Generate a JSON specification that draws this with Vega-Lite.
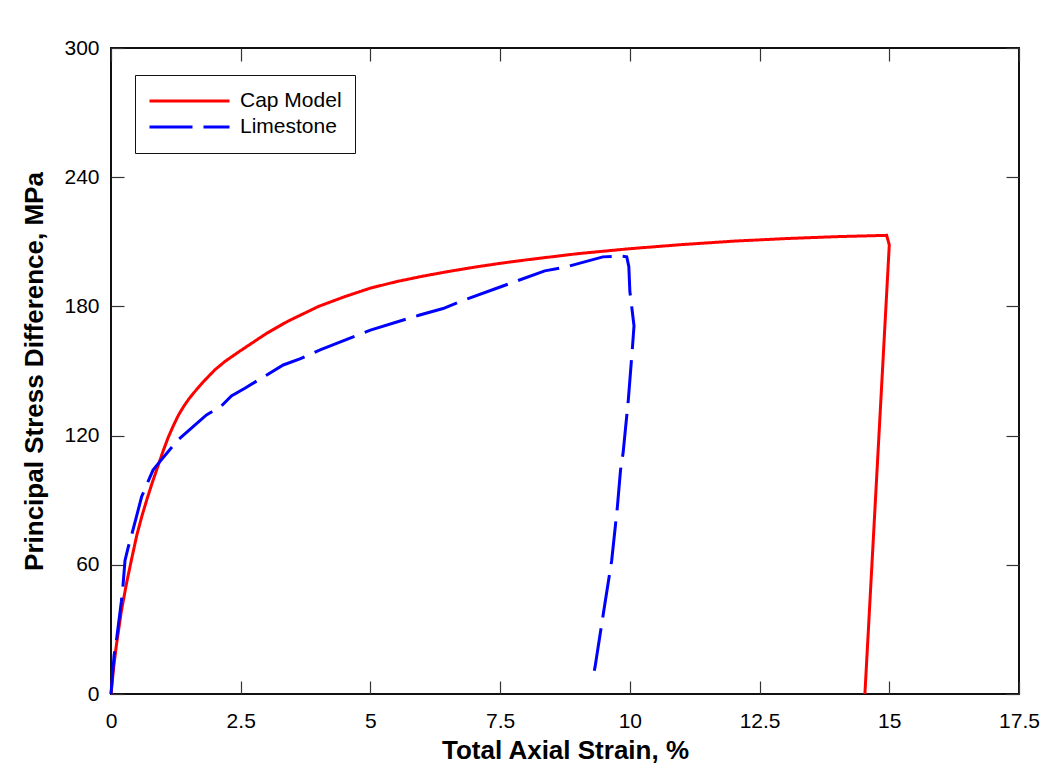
{
  "$schema": "https://vega.github.io/schema/vega-lite/v6.json",
  "width": 908,
  "height": 646,
  "autosize": "none",
  "padding": {"left": 111, "top": 48, "right": 32, "bottom": 78},
  "background": "white",
  "config": {
    "view": {"stroke": "#111111", "strokeWidth": 2},
    "font": "Liberation Sans",
    "axis": {
      "labelFont": "Liberation Sans",
      "labelFontSize": 21,
      "labelColor": "black",
      "titleFont": "Liberation Sans",
      "titleFontSize": 26,
      "titleFontWeight": "bold",
      "titleColor": "black",
      "tickSize": -13,
      "tickColor": "#333333",
      "tickWidth": 1.2,
      "domain": false,
      "grid": false
    }
  },
  "data": {
    "values": [
      {"s": "Cap Model", "i": 0, "x": 0, "y": 0},
      {"s": "Cap Model", "i": 1, "x": 0.05, "y": 12},
      {"s": "Cap Model", "i": 2, "x": 0.1, "y": 22},
      {"s": "Cap Model", "i": 3, "x": 0.2, "y": 38.5},
      {"s": "Cap Model", "i": 4, "x": 0.3, "y": 51.5},
      {"s": "Cap Model", "i": 5, "x": 0.4, "y": 63},
      {"s": "Cap Model", "i": 6, "x": 0.5, "y": 74},
      {"s": "Cap Model", "i": 7, "x": 0.6, "y": 83},
      {"s": "Cap Model", "i": 8, "x": 0.7, "y": 91},
      {"s": "Cap Model", "i": 9, "x": 0.8, "y": 98.5},
      {"s": "Cap Model", "i": 10, "x": 0.9, "y": 105.5},
      {"s": "Cap Model", "i": 11, "x": 1.0, "y": 112.5},
      {"s": "Cap Model", "i": 12, "x": 1.1, "y": 119},
      {"s": "Cap Model", "i": 13, "x": 1.2, "y": 124.5},
      {"s": "Cap Model", "i": 14, "x": 1.3, "y": 129.5},
      {"s": "Cap Model", "i": 15, "x": 1.4, "y": 133.5},
      {"s": "Cap Model", "i": 16, "x": 1.5, "y": 137},
      {"s": "Cap Model", "i": 17, "x": 1.6, "y": 140},
      {"s": "Cap Model", "i": 18, "x": 1.8, "y": 145.5},
      {"s": "Cap Model", "i": 19, "x": 2.0, "y": 150.5},
      {"s": "Cap Model", "i": 20, "x": 2.2, "y": 154.5},
      {"s": "Cap Model", "i": 21, "x": 2.5, "y": 159.5},
      {"s": "Cap Model", "i": 22, "x": 2.75, "y": 163.5},
      {"s": "Cap Model", "i": 23, "x": 3.0, "y": 167.5},
      {"s": "Cap Model", "i": 24, "x": 3.4, "y": 173},
      {"s": "Cap Model", "i": 25, "x": 4.0, "y": 180},
      {"s": "Cap Model", "i": 26, "x": 4.5, "y": 184.5},
      {"s": "Cap Model", "i": 27, "x": 5, "y": 188.5},
      {"s": "Cap Model", "i": 28, "x": 5.5, "y": 191.5},
      {"s": "Cap Model", "i": 29, "x": 6, "y": 194},
      {"s": "Cap Model", "i": 30, "x": 6.5, "y": 196.2},
      {"s": "Cap Model", "i": 31, "x": 7, "y": 198.2},
      {"s": "Cap Model", "i": 32, "x": 7.5, "y": 200},
      {"s": "Cap Model", "i": 33, "x": 8, "y": 201.6},
      {"s": "Cap Model", "i": 34, "x": 9, "y": 204.5},
      {"s": "Cap Model", "i": 35, "x": 10, "y": 206.8},
      {"s": "Cap Model", "i": 36, "x": 11, "y": 208.7},
      {"s": "Cap Model", "i": 37, "x": 12, "y": 210.3},
      {"s": "Cap Model", "i": 38, "x": 13, "y": 211.5},
      {"s": "Cap Model", "i": 39, "x": 14, "y": 212.4},
      {"s": "Cap Model", "i": 40, "x": 14.95, "y": 213},
      {"s": "Cap Model", "i": 41, "x": 15.0, "y": 208.5},
      {"s": "Cap Model", "i": 42, "x": 14.53, "y": 0},
      {"s": "Limestone", "i": 0, "x": 0, "y": 0},
      {"s": "Limestone", "i": 1, "x": 0.06, "y": 18},
      {"s": "Limestone", "i": 2, "x": 0.1, "y": 24},
      {"s": "Limestone", "i": 3, "x": 0.2, "y": 43},
      {"s": "Limestone", "i": 4, "x": 0.23, "y": 50},
      {"s": "Limestone", "i": 5, "x": 0.27, "y": 62},
      {"s": "Limestone", "i": 6, "x": 0.33, "y": 68},
      {"s": "Limestone", "i": 7, "x": 0.4, "y": 74},
      {"s": "Limestone", "i": 8, "x": 0.59, "y": 91.6},
      {"s": "Limestone", "i": 9, "x": 0.72, "y": 99},
      {"s": "Limestone", "i": 10, "x": 0.81, "y": 104},
      {"s": "Limestone", "i": 11, "x": 0.91, "y": 107},
      {"s": "Limestone", "i": 12, "x": 1.29, "y": 118},
      {"s": "Limestone", "i": 13, "x": 1.55, "y": 123.5},
      {"s": "Limestone", "i": 14, "x": 1.84, "y": 129.6},
      {"s": "Limestone", "i": 15, "x": 2.13, "y": 133.8},
      {"s": "Limestone", "i": 16, "x": 2.32, "y": 138.4},
      {"s": "Limestone", "i": 17, "x": 2.58, "y": 142},
      {"s": "Limestone", "i": 18, "x": 3.32, "y": 152.8},
      {"s": "Limestone", "i": 19, "x": 3.64, "y": 155.6},
      {"s": "Limestone", "i": 20, "x": 4.03, "y": 159.8},
      {"s": "Limestone", "i": 21, "x": 5, "y": 169},
      {"s": "Limestone", "i": 22, "x": 5.95, "y": 176},
      {"s": "Limestone", "i": 23, "x": 6.4, "y": 179},
      {"s": "Limestone", "i": 24, "x": 6.7, "y": 182},
      {"s": "Limestone", "i": 25, "x": 7.5, "y": 189},
      {"s": "Limestone", "i": 26, "x": 8.36, "y": 196.5},
      {"s": "Limestone", "i": 27, "x": 8.78, "y": 198.4},
      {"s": "Limestone", "i": 28, "x": 9.48, "y": 203},
      {"s": "Limestone", "i": 29, "x": 9.81, "y": 203.4},
      {"s": "Limestone", "i": 30, "x": 9.94, "y": 203},
      {"s": "Limestone", "i": 31, "x": 9.98, "y": 198.5},
      {"s": "Limestone", "i": 32, "x": 10.0, "y": 187},
      {"s": "Limestone", "i": 33, "x": 10.08, "y": 171},
      {"s": "Limestone", "i": 34, "x": 10.05, "y": 161},
      {"s": "Limestone", "i": 35, "x": 9.97, "y": 136.5},
      {"s": "Limestone", "i": 36, "x": 9.87, "y": 112},
      {"s": "Limestone", "i": 37, "x": 9.82, "y": 104},
      {"s": "Limestone", "i": 38, "x": 9.76, "y": 87},
      {"s": "Limestone", "i": 39, "x": 9.65, "y": 62},
      {"s": "Limestone", "i": 40, "x": 9.49, "y": 37.5},
      {"s": "Limestone", "i": 41, "x": 9.33, "y": 12.7},
      {"s": "Limestone", "i": 42, "x": 9.28, "y": 6.5}
    ]
  },
  "layer": [
    {
      "mark": {"type": "line", "strokeWidth": 3},
      "encoding": {
        "x": {
          "field": "x", "type": "quantitative",
          "scale": {"domain": [0, 17.5], "nice": false, "zero": false},
          "axis": {
            "orient": "bottom",
            "values": [0, 2.5, 5, 7.5, 10, 12.5, 15, 17.5],
            "format": ".1~f",
            "labelPadding": 29,
            "labelFlush": false,
            "title": "Total Axial Strain, %",
            "titlePadding": 6
          }
        },
        "y": {
          "field": "y", "type": "quantitative",
          "scale": {"domain": [0, 300], "nice": false, "zero": false},
          "axis": {
            "orient": "left",
            "values": [0, 60, 120, 180, 240, 300],
            "labelPadding": 25,
            "labelFlush": false,
            "title": "Principal Stress Difference, MPa",
            "titlePadding": 16
          }
        },
        "order": {"field": "i", "type": "quantitative"},
        "color": {
          "field": "s", "type": "nominal",
          "scale": {"domain": ["Cap Model", "Limestone"], "range": ["#ff0000", "#0000ff"]},
          "legend": {
            "title": null,
            "orient": "none",
            "legendX": 24,
            "legendY": 27,
            "symbolType": "stroke",
            "symbolSize": 6400,
            "symbolStrokeWidth": 3,
            "labelFont": "Liberation Sans",
            "labelFontSize": 21,
            "labelColor": "black",
            "labelOffset": 9,
            "padding": 13,
            "clipHeight": 26,
            "rowPadding": 0,
            "strokeColor": "#111111",
            "fillColor": "white"
          }
        },
        "strokeDash": {
          "field": "s", "type": "nominal",
          "scale": {"domain": ["Cap Model", "Limestone"], "range": [[1, 0], [43, 11]]},
          "legend": {
            "title": null,
            "orient": "none",
            "legendX": 24,
            "legendY": 27,
            "symbolType": "stroke",
            "symbolSize": 6400,
            "symbolStrokeWidth": 3,
            "labelFont": "Liberation Sans",
            "labelFontSize": 21,
            "labelColor": "black",
            "labelOffset": 9,
            "padding": 13,
            "clipHeight": 26,
            "rowPadding": 0,
            "strokeColor": "#111111",
            "fillColor": "white"
          }
        }
      }
    },
    {
      "mark": {"type": "line", "opacity": 0},
      "encoding": {
        "x": {
          "field": "x", "type": "quantitative",
          "axis": {"orient": "top", "values": [0, 2.5, 5, 7.5, 10, 12.5, 15, 17.5], "labels": false, "title": null}
        },
        "y": {
          "field": "y", "type": "quantitative",
          "axis": {"orient": "right", "values": [0, 60, 120, 180, 240, 300], "labels": false, "title": null}
        },
        "detail": {"field": "s", "type": "nominal"}
      }
    }
  ],
  "resolve": {"axis": {"x": "independent", "y": "independent"}}
}
